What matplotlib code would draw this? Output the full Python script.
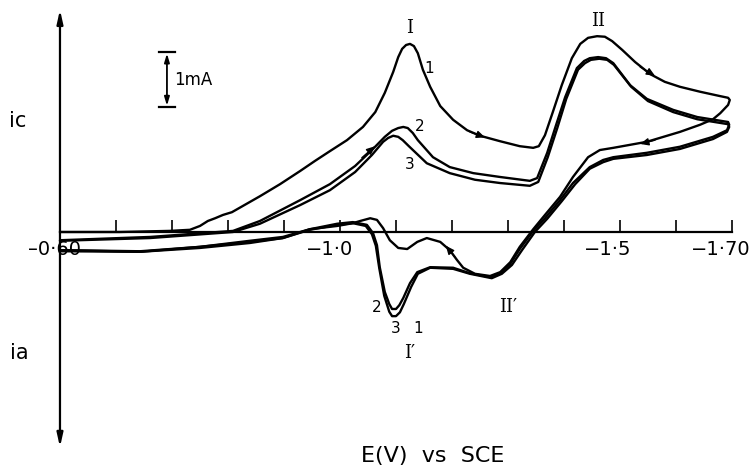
import matplotlib
matplotlib.use("Agg")
import matplotlib.pyplot as plt
import matplotlib.transforms as mtransforms

# ---------------- data (E in V vs SCE, i in mA; cathodic positive) ----------------
cycle1_E = [-0.500, -0.607, -0.696, -0.732, -0.750, -0.764, -0.777, -0.791, -0.807, -0.857,
            -0.893, -0.929, -0.955, -0.982, -1.0125, -1.041, -1.063, -1.080, -1.095, -1.104,
            -1.111, -1.118, -1.125, -1.132, -1.139, -1.148, -1.161, -1.179, -1.202, -1.227,
            -1.250, -1.286, -1.321, -1.345, -1.355, -1.366, -1.380, -1.396, -1.414, -1.429,
            -1.443, -1.459, -1.473, -1.486, -1.504, -1.527, -1.554, -1.580, -1.607, -1.643,
            -1.679, -1.693, -1.696, -1.693, -1.679,
            -1.666, -1.643, -1.607, -1.548, -1.488, -1.464, -1.443, -1.416,
            -1.393, -1.366, -1.345, -1.321, -1.304, -1.286, -1.268, -1.241, -1.220, -1.209,
            -1.196, -1.179, -1.155, -1.138, -1.120, -1.104, -1.089, -1.077, -1.066, -1.054,
            -1.036, -1.023, -0.995, -0.946, -0.898, -0.839, -0.750, -0.643, -0.500]
cycle1_i = [0.00, 0.00, 0.02, 0.04, 0.11, 0.20, 0.25, 0.31, 0.36, 0.65,
            0.87, 1.11, 1.29, 1.47, 1.67, 1.91, 2.18, 2.53, 2.91, 3.18,
            3.33, 3.40, 3.42, 3.38, 3.25, 2.95, 2.64, 2.29, 2.04, 1.85,
            1.75, 1.65, 1.56, 1.53, 1.56, 1.76, 2.18, 2.67, 3.16, 3.42,
            3.53, 3.56, 3.55, 3.47, 3.31, 3.09, 2.87, 2.73, 2.64, 2.55,
            2.47, 2.44, 2.40, 2.31, 2.16,
            2.05, 1.95, 1.82, 1.64, 1.53, 1.49, 1.36, 1.00,
            0.64, 0.31, 0.05, -0.27, -0.55, -0.73, -0.80, -0.76, -0.65, -0.51,
            -0.33, -0.18, -0.11, -0.18, -0.31, -0.29, -0.15, 0.07, 0.22, 0.25,
            0.20, 0.16, 0.11, 0.05, -0.09, -0.16, -0.27, -0.35, -0.33]

cycle2_E = [-0.500, -0.661, -0.809, -0.857, -0.929, -0.982, -1.027, -1.057, -1.080, -1.093,
            -1.104, -1.113, -1.121, -1.130, -1.139, -1.166, -1.196, -1.238, -1.286, -1.339,
            -1.352, -1.370, -1.386, -1.402, -1.423, -1.436, -1.446, -1.461, -1.475, -1.488,
            -1.518, -1.548, -1.595, -1.638, -1.693,
            -1.695, -1.691, -1.666, -1.607, -1.548, -1.488, -1.470, -1.446, -1.416, -1.393,
            -1.366, -1.345, -1.321, -1.304, -1.286, -1.268, -1.232, -1.202, -1.161, -1.138,
            -1.125, -1.113, -1.106, -1.100, -1.093, -1.088, -1.080, -1.071, -1.066, -1.059,
            -1.048, -1.023, -0.995, -0.946, -0.898, -0.839, -0.750, -0.643, -0.500]
cycle2_i = [-0.15, -0.09, 0.02, 0.20, 0.58, 0.87, 1.20, 1.49, 1.73, 1.84,
            1.89, 1.91, 1.89, 1.80, 1.67, 1.36, 1.18, 1.07, 1.00, 0.93,
            0.98, 1.44, 1.95, 2.45, 2.98, 3.11, 3.16, 3.18, 3.16, 3.07,
            2.67, 2.42, 2.22, 2.09, 2.00,
            1.95, 1.85, 1.73, 1.55, 1.44, 1.36, 1.31, 1.18, 0.89, 0.58,
            0.25, 0.02, -0.31, -0.58, -0.75, -0.82, -0.75, -0.65, -0.64, -0.73,
            -0.93, -1.20, -1.33, -1.40, -1.40, -1.31, -1.09, -0.64, -0.24, -0.02,
            0.13, 0.18, 0.15, 0.05, -0.11, -0.18, -0.27, -0.36, -0.33]

cycle3_E = [-0.500, -0.661, -0.809, -0.857, -0.929, -0.982, -1.027, -1.057, -1.077, -1.086,
            -1.095, -1.104, -1.112, -1.123, -1.155, -1.196, -1.241, -1.286, -1.339, -1.354,
            -1.371, -1.388, -1.404, -1.425, -1.4375, -1.448, -1.463, -1.477, -1.489, -1.520,
            -1.550, -1.595, -1.638, -1.693,
            -1.695, -1.691, -1.666, -1.607, -1.548, -1.488, -1.470, -1.446, -1.420, -1.396,
            -1.370, -1.348, -1.325, -1.307, -1.289, -1.271, -1.232, -1.202, -1.161, -1.139,
            -1.127, -1.114, -1.107, -1.100, -1.093, -1.088, -1.079, -1.070, -1.064, -1.057,
            -1.046, -1.023, -0.995, -0.946, -0.898, -0.839, -0.750, -0.643, -0.500]
cycle3_i = [-0.16, -0.11, 0.00, 0.15, 0.49, 0.76, 1.09, 1.40, 1.64, 1.71,
            1.75, 1.73, 1.67, 1.56, 1.25, 1.07, 0.95, 0.89, 0.84, 0.91,
            1.36, 1.89, 2.42, 2.95, 3.07, 3.13, 3.15, 3.13, 3.04, 2.64,
            2.38, 2.18, 2.05, 1.96,
            1.91, 1.82, 1.69, 1.51, 1.40, 1.33, 1.27, 1.15, 0.87, 0.56,
            0.24, 0.00, -0.33, -0.60, -0.76, -0.84, -0.76, -0.67, -0.65, -0.76,
            -1.00, -1.31, -1.46, -1.53, -1.53, -1.45, -1.16, -0.65, -0.25, -0.04,
            0.11, 0.16, 0.13, 0.04, -0.11, -0.20, -0.29, -0.36, -0.35]

tick_values = [-0.5, -0.6, -0.7, -0.8, -0.9, -1.0, -1.1, -1.2, -1.3, -1.4, -1.5, -1.6, -1.7]
tick_labels = ["\u20130\u00b760", "", "", "", "", "\u22121\u00b70", "", "", "", "",
               "\u22121\u00b75", "", "\u22121\u00b770"]

# direction arrows on the curves: (from E, from i, to E, to i)
arrow_marks = [(-1.232, 1.82, -1.259, 1.72),
               (-1.536, 3.00, -1.5625, 2.84),
               (-1.5625, 1.67, -1.536, 1.60),
               (-1.205, -0.45, -1.189, -0.25),
               (-1.039, 1.35, -1.0625, 1.56)]

# ---------------- figure ----------------
fig = plt.figure(figsize=(7.51, 4.68), dpi=100)
ax = fig.add_axes([0, 0, 1, 1])
ax.set_xlim(-0.3929, -1.7339)
ax.set_ylim(-4.291, 4.218)
ax.patch.set_alpha(0)

lw = 1.7
for E, cur in [(cycle1_E, cycle1_i), (cycle2_E, cycle2_i), (cycle3_E, cycle3_i)]:
    ax.plot(E, cur, color="black", lw=lw, solid_joinstyle="round", solid_capstyle="round")

for (e0, i0, e1, i1) in arrow_marks:
    ax.annotate("", xy=(e1, i1), xytext=(e0, i0),
                arrowprops=dict(arrowstyle="-|>,head_length=0.5,head_width=0.22",
                                color="black", lw=1.0, shrinkA=0, shrinkB=0))

# axes: spine through zero current, ticks pointing up
for s in ["top", "right", "left"]:
    ax.spines[s].set_visible(False)
ax.spines["bottom"].set_position(("data", 0))
ax.spines["bottom"].set_bounds(-0.5, -1.7)
ax.spines["bottom"].set_linewidth(1.6)
ax.set_yticks([])
ax.set_xticks(tick_values)
ax.set_xticklabels(tick_labels, fontsize=14, family="DejaVu Sans")
ax.tick_params(axis="x", direction="in", length=9, width=1.2, pad=6)
offsets = {0: -5, 5: -10, 10: -12, 12: -11}
for k, lab in enumerate(ax.get_xticklabels()):
    dx = offsets.get(k, 0) / 100.0
    lab.set_transform(lab.get_transform() + mtransforms.ScaledTranslation(dx, 0, fig.dpi_scale_trans))

# vertical current axis with arrows
ax.annotate("", xy=(-0.5, 4.04), xytext=(-0.5, -3.91),
            arrowprops=dict(arrowstyle="<|-|>,head_length=0.8,head_width=0.18",
                            color="black", lw=1.6, shrinkA=0, shrinkB=0))

# 1 mA scale bar
bar_E = -0.691
ax.annotate("", xy=(bar_E, 3.27), xytext=(bar_E, 2.27),
            arrowprops=dict(arrowstyle="<|-|>,head_length=0.5,head_width=0.15",
                            color="black", lw=1.3, shrinkA=1, shrinkB=1))
ax.plot([bar_E + 0.0143, bar_E - 0.0143], [3.27, 3.27], color="black", lw=1.6)
ax.plot([bar_E + 0.0143, bar_E - 0.0143], [2.27, 2.27], color="black", lw=1.6)
ax.text(-0.704, 2.76, "1mA", fontsize=12, ha="left", va="center")

# labels
serif = "DejaVu Serif"
ax.text(-1.125, 3.71, "I", family=serif, fontsize=13, ha="center", va="center")
ax.text(-1.461, 3.83, "II", family=serif, fontsize=13, ha="center", va="center")
ax.text(-1.159, 2.98, "1", fontsize=11, ha="center", va="center")
ax.text(-1.143, 1.91, "2", fontsize=11, ha="center", va="center")
ax.text(-1.125, 1.22, "3", fontsize=11, ha="center", va="center")
ax.text(-1.066, -1.38, "2", fontsize=11, ha="center", va="center")
ax.text(-1.100, -1.75, "3", fontsize=11, ha="center", va="center")
ax.text(-1.139, -1.75, "1", fontsize=11, ha="center", va="center")
ax.text(-1.125, -2.20, "I\u2032", family=serif, fontsize=13, ha="center", va="center")
ax.text(-1.300, -1.36, "II\u2032", family=serif, fontsize=13, ha="center", va="center")

ax.text(-0.425, 2.02, "ic", fontsize=15, ha="center", va="center")
ax.text(-0.427, -2.20, "ia", fontsize=15, ha="center", va="center")
ax.text(-1.166, -4.08, "E(V)  vs  SCE", fontsize=16, ha="center", va="center")

fig.savefig("out.png", dpi=100)
